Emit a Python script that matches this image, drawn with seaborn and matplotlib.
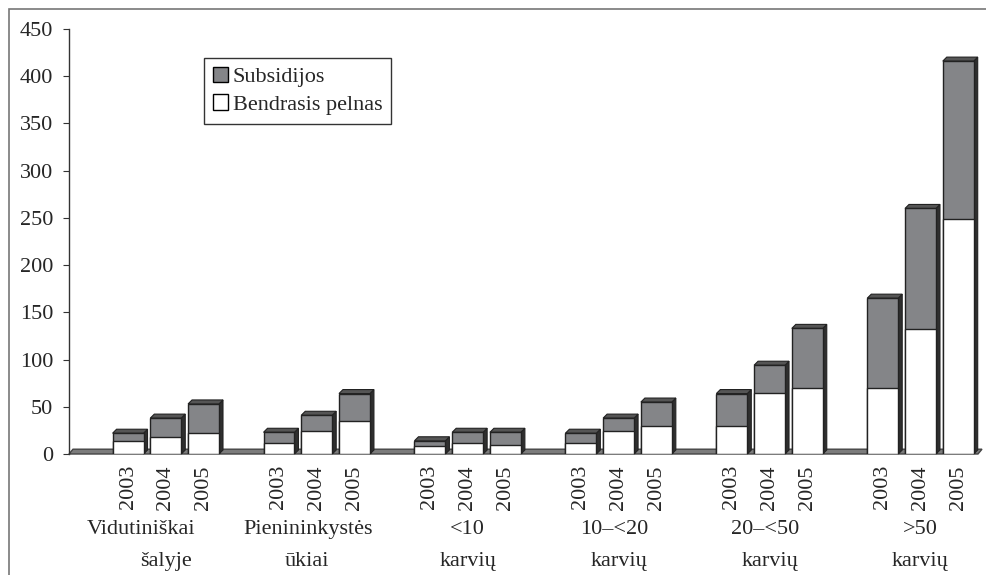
import numpy as np
import pandas as pd
import matplotlib
matplotlib.use("Agg")
import matplotlib.pyplot as plt
import seaborn as sns
from matplotlib.patches import Polygon, Patch, Rectangle

# --- data ---
groups = ["Vidutiniškai\nšalyje", "Pienininkystės\nūkiai", "<10\nkarvių",
          "10–<20\nkarvių", "20–<50\nkarvių", ">50\nkarvių"]
years = ["2003", "2004", "2005"]
pelnas = [14, 18, 22, 12, 24, 35, 9, 12, 10, 12, 24, 30, 30, 65, 70, 70, 132, 249]
subsidijos = [8, 20, 31, 11, 17, 29, 5, 11, 13, 10, 14, 25, 34, 29, 63, 95, 128, 167]
yticks = list(range(0, 451, 50))

GRAY = "#848588"
SIDE = "#2f2f2f"
TOP = "#555555"
EDGE = "#222222"
DEPTH = 4  # px, pseudo 3D depth
FS = 16

sns.set_theme(style="white")
plt.rcParams["font.family"] = ["Liberation Serif", "DejaVu Serif"]

# one empty slot before each group of three years
pos = [4 * g + j + 1 for g in range(len(groups)) for j in range(len(years))]
df = pd.DataFrame({
    "pos": pos,
    "year": years * len(groups),
    "pelnas": pelnas,
    "subsidijos": subsidijos,
})
df["total"] = df["pelnas"] + df["subsidijos"]

fig = plt.figure(figsize=(9.86, 5.75), dpi=100)
ax = fig.add_axes([69 / 986, 1 - 454 / 575, (982 - 69) / 986, 425 / 575])

sns.barplot(data=df, x="pos", y="total", native_scale=True, width=0.82,
            color=GRAY, saturation=1, edgecolor=EDGE, linewidth=1,
            errorbar=None, ax=ax, zorder=3)
sns.barplot(data=df, x="pos", y="pelnas", native_scale=True, width=0.82,
            color="white", saturation=1, edgecolor=EDGE, linewidth=1,
            errorbar=None, ax=ax, zorder=3)

ax.set_xlim(-0.565, 23.63)
ax.set_ylim(0, 450)

# depth in data units
o = ax.transData.transform((0, 0))
ddx, ddy = ax.transData.inverted().transform(o + DEPTH) - ax.transData.inverted().transform(o)

# floor
x0, x1 = ax.get_xlim()
floor = Polygon([(x0, 0), (x1 - ddx, 0), (x1, ddy * 1.2), (x0 + ddx, ddy * 1.2)],
                closed=True, facecolor="#7c7c7c", edgecolor="#444444", lw=1,
                zorder=1, clip_on=False)
ax.add_patch(floor)

# sides and tops of the bars
for bar in ax.containers[0]:
    bx, bw, bh = bar.get_x(), bar.get_width(), bar.get_height()
    side = Polygon([(bx + bw, 0), (bx + bw + ddx, ddy), (bx + bw + ddx, bh + ddy), (bx + bw, bh)],
                   closed=True, facecolor=SIDE, edgecolor=EDGE, lw=0.8, zorder=2.5, clip_on=False)
    top = Polygon([(bx, bh), (bx + ddx, bh + ddy), (bx + bw + ddx, bh + ddy), (bx + bw, bh)],
                  closed=True, facecolor=TOP, edgecolor=EDGE, lw=0.8, zorder=2.5, clip_on=False)
    ax.add_patch(side)
    ax.add_patch(top)

# axes styling
for s in ["top", "right", "bottom"]:
    ax.spines[s].set_visible(False)
ax.spines["left"].set_color("#333333")
ax.spines["left"].set_linewidth(1)
ax.set_yticks(yticks)
ax.set_yticklabels([str(v) for v in yticks])
ax.tick_params(axis="y", direction="out", length=4.3, width=0.8, color="#333333",
               labelsize=FS, pad=7, left=True)
ax.set_xticks(df["pos"])
ax.set_xticklabels(df["year"], rotation=90, va="top", ha="center")
ax.tick_params(axis="x", length=0, labelsize=FS, pad=8)
ax.set_xlabel("")
ax.set_ylabel("")

# group labels, two lines each
shift1 = [-0.65, -0.22, 0, -0.12, -0.12, 0]
shift2 = [0, -0.25, 0, 0, 0, 0]
for g, name in enumerate(groups):
    l1, l2 = name.split("\n")
    cx = 4 * g + 2
    ax.text(cx + shift1[g], (454 - 534) / 425, l1, transform=ax.get_xaxis_transform(),
            ha="center", va="baseline", fontsize=FS)
    ax.text(cx + shift2[g], (454 - 566) / 425, l2, transform=ax.get_xaxis_transform(),
            ha="center", va="baseline", fontsize=FS)

# legend
handles = [Patch(facecolor=GRAY, edgecolor="black", lw=1, label="Subsidijos"),
           Patch(facecolor="white", edgecolor="black", lw=1, label="Bendrasis pelnas")]
leg = ax.legend(handles=handles, loc="upper left", bbox_to_anchor=(204 / 986, 1 - 58 / 575),
                bbox_transform=fig.transFigure, borderaxespad=0, fontsize=FS,
                handlelength=0.7, handleheight=0.7, handletextpad=0.2,
                labelspacing=0.3, borderpad=0.4, fancybox=False, framealpha=1,
                edgecolor="#333333")
leg.get_frame().set_linewidth(1)

# outer frame (cut off on the right and bottom)
fig.patches.append(Rectangle((9 / 986, -0.1), 1.2, 1 - 9 / 575 + 0.1, transform=fig.transFigure,
                             fill=False, edgecolor="#777777", lw=1.2))

fig.savefig("out.png", dpi=100)
